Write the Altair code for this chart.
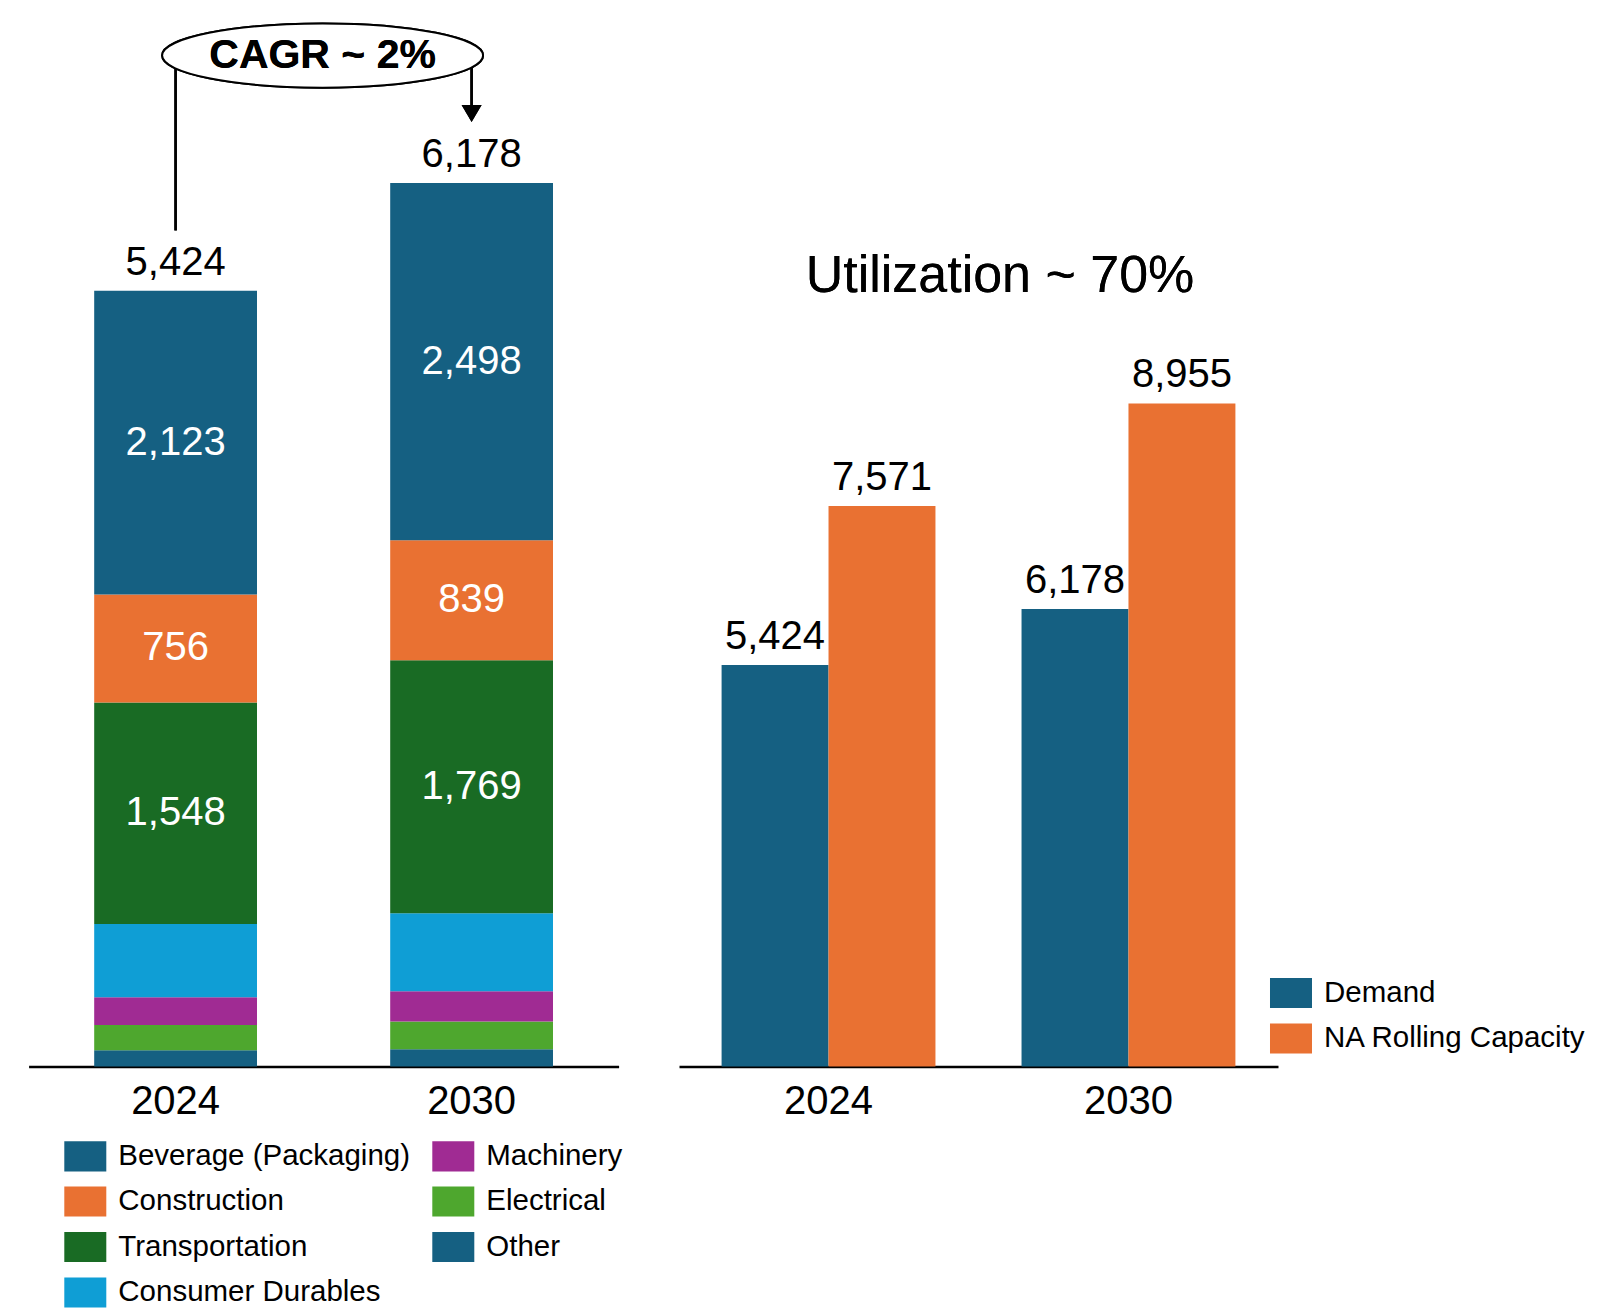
import altair as alt
import pandas as pd

# ---------------- data ----------------
years = ["2024", "2030"]
segments = ["Beverage (Packaging)", "Construction", "Transportation",
            "Consumer Durables", "Machinery", "Electrical", "Other"]
seg_2024 = [2123, 756, 1548, 513, 193, 178, 113]
seg_2030 = [2498, 839, 1769, 546, 212, 193, 121]
seg_colors = ["#156082", "#E97132", "#196B24", "#0F9ED5", "#A02B93", "#4EA72E", "#156082"]
labelled_segments = ["Beverage (Packaging)", "Construction", "Transportation"]
totals = [5424, 6178]

util_series = ["Demand", "NA Rolling Capacity"]
demand = [5424, 6178]
capacity = [7571, 8955]
util_colors = ["#156082", "#E97132"]

cagr_text = "CAGR ~ 2%"
util_text = "Utilization ~ 70%"

# annotation anchors (data units of the left / right value scales)
cagr_oval_y = 7069
cagr_text_y = 6979
left_line_bottom = 5846
right_line_bottom = 6713
arrow_head_y = 6664
util_title_y = 10457

FONT = "Liberation Sans"
LEFT_W, RIGHT_W, H = 590, 599, 1044

# ---------------- tables ----------------
rows = []
for yr, vals in zip(years, [seg_2024, seg_2030]):
    base = 0
    # stack from the bottom: last segment first
    for i in reversed(range(len(segments))):
        v = vals[i]
        rows.append({"year": yr, "segment": segments[i], "value": v,
                     "order": len(segments) - 1 - i, "mid": base + v / 2,
                     "show": segments[i] in labelled_segments})
        base += v
seg_df = pd.DataFrame(rows)
tot_df = pd.DataFrame({"year": years, "total": totals})

util_rows = []
for yr, d, c in zip(years, demand, capacity):
    util_rows.append({"year": yr, "series": util_series[0], "value": d})
    util_rows.append({"year": yr, "series": util_series[1], "value": c})
util_df = pd.DataFrame(util_rows)

# ---------------- scales ----------------
X_LEFT = alt.Scale(domain=years, paddingInner=0.45, paddingOuter=0.2216)
Y_LEFT = alt.Scale(domain=[0, 7300], nice=False, zero=True)
X_RIGHT = alt.Scale(domain=years, paddingInner=0.287, paddingOuter=0.142)
Y_RIGHT = alt.Scale(domain=[0, 14100], nice=False, zero=True)

RECT = "M-1,-0.72L1,-0.72L1,0.72L-1,0.72Z"
OVAL = "M-1,0A1,0.2,0,1,0,1,0A1,0.2,0,1,0,-1,0Z"
ARROW = "M-1,-0.85L1,-0.85L0,0.85Z"

x_axis = alt.Axis(title=None, labelAngle=0, ticks=False, domainColor="black",
                  domainWidth=2.5, labelFontSize=40, labelFont=FONT,
                  labelColor="black", labelPadding=15)

# ---------------- left panel ----------------
bars_left = alt.Chart(seg_df).mark_bar().encode(
    x=alt.X("year:N", scale=X_LEFT, axis=x_axis),
    y=alt.Y("value:Q", scale=Y_LEFT, axis=None, stack="zero"),
    order=alt.Order("order:Q", sort="ascending"),
    color=alt.Color("segment:N",
                    scale=alt.Scale(domain=segments, range=seg_colors),
                    legend=alt.Legend(orient="none", legendX=35.7, legendY=1112.5,
                                      columns=2, title=None, symbolType=RECT,
                                      symbolSize=1764, symbolStrokeWidth=0,
                                      symbolOpacity=1, labelFontSize=29.5,
                                      labelFont=FONT, labelColor="black",
                                      labelLimit=0, labelOffset=12,
                                      rowPadding=8.5, columnPadding=22, padding=0)),
)

inner_labels = alt.Chart(seg_df).transform_filter("datum.show").mark_text(
    color="white", fontSize=40, font=FONT, baseline="middle", align="center"
).encode(
    x=alt.X("year:N", scale=X_LEFT),
    y=alt.Y("mid:Q", scale=Y_LEFT),
    text=alt.Text("value:Q", format=","),
)

total_labels = alt.Chart(tot_df).mark_text(
    color="black", fontSize=40, font=FONT, baseline="alphabetic", dy=-16
).encode(
    x=alt.X("year:N", scale=X_LEFT),
    y=alt.Y("total:Q", scale=Y_LEFT),
    text=alt.Text("total:Q", format=","),
)

left_line = alt.Chart(tot_df).mark_rule(color="black", strokeWidth=2.5).encode(
    x=alt.XDatum(years[0], type="nominal", scale=X_LEFT),
    y=alt.YDatum(left_line_bottom, type="quantitative", scale=Y_LEFT),
    y2=alt.Y2Datum(cagr_oval_y),
)
right_line = alt.Chart(tot_df).mark_rule(color="black", strokeWidth=2.5).encode(
    x=alt.XDatum(years[1], type="nominal", scale=X_LEFT),
    y=alt.YDatum(right_line_bottom, type="quantitative", scale=Y_LEFT),
    y2=alt.Y2Datum(cagr_oval_y),
)
arrow_head = alt.Chart(tot_df).mark_point(
    shape=ARROW, size=400, filled=True, color="black", opacity=1
).encode(
    x=alt.XDatum(years[1], type="nominal", scale=X_LEFT),
    y=alt.YDatum(arrow_head_y, type="quantitative", scale=Y_LEFT),
)
oval = alt.Chart(tot_df).mark_point(
    shape=OVAL, size=321 * 321, filled=True, fill="white", stroke="black",
    strokeWidth=2, opacity=1, fillOpacity=1
).encode(
    x=alt.value(LEFT_W / 2 - 1),
    y=alt.YDatum(cagr_oval_y, type="quantitative", scale=Y_LEFT),
)
cagr = alt.Chart(tot_df).mark_text(
    text=cagr_text, fontSize=41, fontWeight="bold", font=FONT, color="black",
    baseline="alphabetic", align="center"
).encode(
    x=alt.value(LEFT_W / 2 - 1),
    y=alt.YDatum(cagr_text_y, type="quantitative", scale=Y_LEFT),
)

left = alt.layer(
    bars_left, inner_labels, total_labels, left_line, right_line, arrow_head, oval, cagr
).properties(width=LEFT_W, height=H)

# ---------------- right panel ----------------
bars_right = alt.Chart(util_df).mark_bar().encode(
    x=alt.X("year:N", scale=X_RIGHT, axis=x_axis),
    xOffset=alt.XOffset("series:N", sort=util_series,
                        scale=alt.Scale(paddingInner=0, paddingOuter=0)),
    y=alt.Y("value:Q", scale=Y_RIGHT, axis=None),
    color=alt.Color("series:N",
                    scale=alt.Scale(domain=util_series, range=util_colors),
                    legend=alt.Legend(orient="none", legendX=591, legendY=949.5,
                                      title=None, symbolType=RECT,
                                      symbolSize=1764, symbolStrokeWidth=0,
                                      symbolOpacity=1, labelFontSize=29.5,
                                      labelFont=FONT, labelColor="black",
                                      labelLimit=0, labelOffset=12,
                                      rowPadding=8.5, padding=0)),
)
right_labels = alt.Chart(util_df).mark_text(
    color="black", fontSize=40, font=FONT, baseline="alphabetic", dy=-16
).encode(
    x=alt.X("year:N", scale=X_RIGHT),
    xOffset=alt.XOffset("series:N", sort=util_series,
                        scale=alt.Scale(paddingInner=0, paddingOuter=0)),
    y=alt.Y("value:Q", scale=Y_RIGHT),
    text=alt.Text("value:Q", format=","),
)
util_title = alt.Chart(tot_df).mark_text(
    text=util_text, fontSize=52, font=FONT, color="black",
    baseline="alphabetic", align="center"
).encode(
    x=alt.value(321),
    y=alt.YDatum(util_title_y, type="quantitative", scale=Y_RIGHT),
)

right = alt.layer(bars_right, right_labels, util_title).properties(width=RIGHT_W, height=H)

chart = alt.hconcat(left, right, spacing=60.4, bounds="flush").resolve_scale(
    color="independent", x="independent", y="independent", xOffset="independent"
).properties(
    padding={"left": 28.6, "top": 18.5, "right": 10, "bottom": 8},
    background="white",
).configure_view(stroke=None)

chart.save("out.html", embed_options={"renderer": "svg", "actions": False})
